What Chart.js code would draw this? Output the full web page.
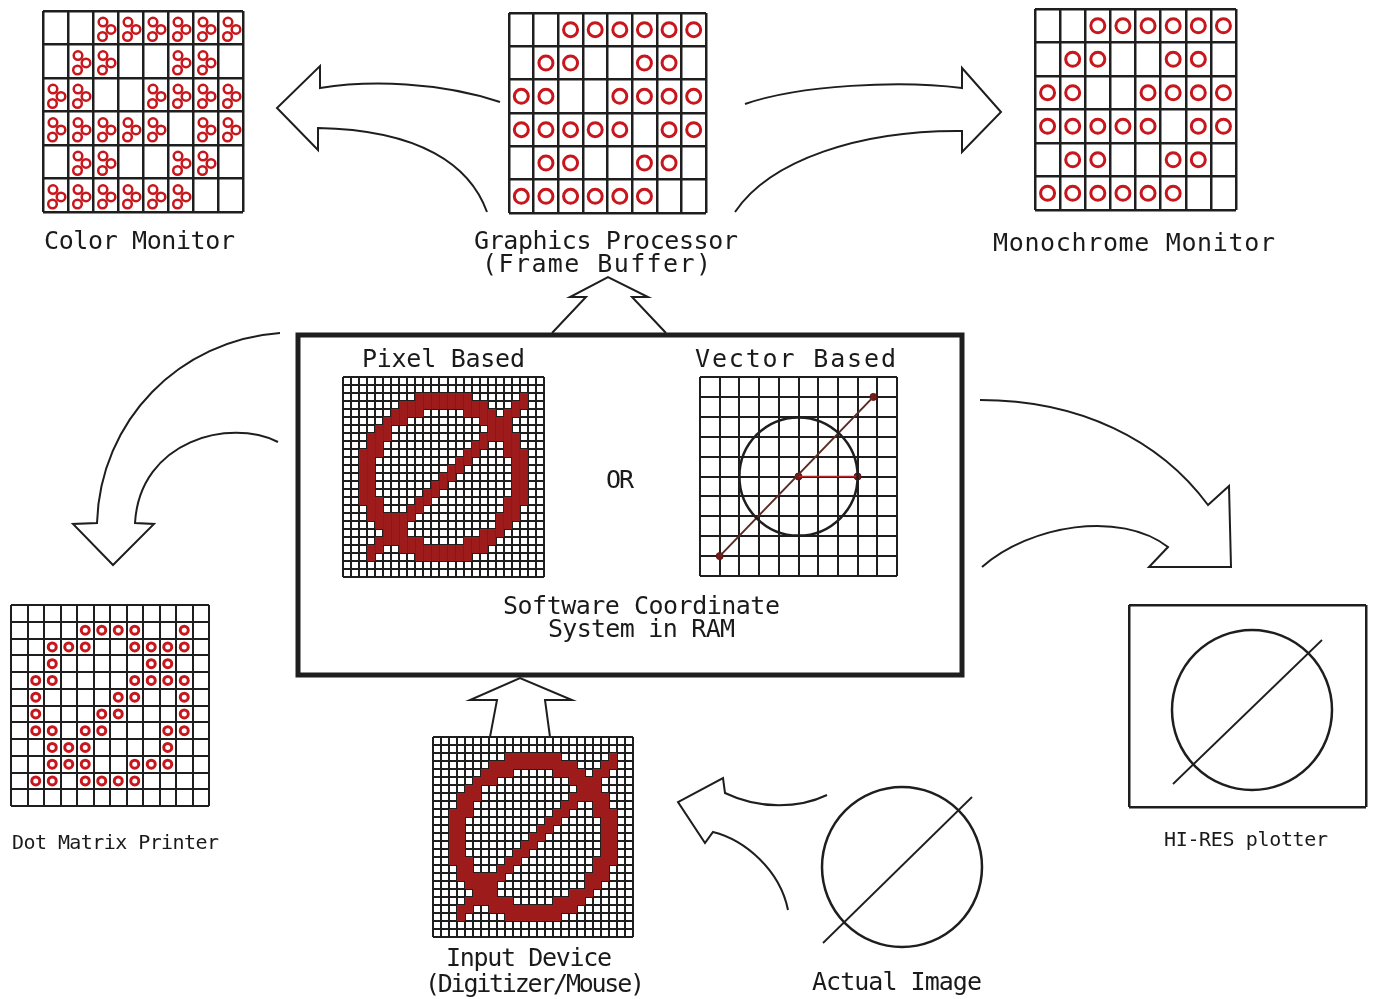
<!DOCTYPE html>
<html>
<head>
<meta charset="utf-8">
<title>Graphics data flow</title>
<script src="https://cdn.jsdelivr.net/npm/chart.js@4.4.1/dist/chart.umd.min.js"></script>
<style>
  html, body { margin: 0; padding: 0; background: #fff; }
  #stage { position: relative; width: 1374px; height: 999px; overflow: hidden; }
  .panel { position: absolute; }
  .label { position: absolute; white-space: nowrap; font-family: "DejaVu Sans Mono", monospace; color: #1a1a1a; line-height: 1; }
</style>
</head>
<body>
<div id="stage"></div>
<script>
// Data: frame buffer cells (1 = pixel on), 8 columns x 6 rows
const frameBufferRows = ['00111111', '01100110', '11001111', '11111011', '01100110', '11111100'];
const colorMonitorRows = ['00111111', '01100110', '11001111', '11111011', '01100110', '11111100'];
const monochromeRows = ['00111111', '01100110', '11001111', '11111011', '01100110', '11111100'];

// Dot matrix printer, 12 x 12
const printerRows = [
    '000000000000',
    '000011110010',
    '001110011110',
    '001000001100',
    '011000011110',
    '010000110010',
    '010001100010',
    '011011000110',
    '001110000100',
    '001110011100',
    '011011110000',
    '000000000000'
];

// Pixel based frame (also what the digitizer returns), 25 x 25
const pixelRows = [
    '.........................',
    '.........................',
    '.........#######......#..',
    '.......###########...##..',
    '......####.....####.##...',
    '.....###.........####....',
    '....##............###....',
    '...###...........#####...',
    '...##...........##..##...',
    '..###..........##...###..',
    '..##..........##.....##..',
    '..##.........##......##..',
    '..##........##.......##..',
    '..##.......##........##..',
    '..##......##.........##..',
    '..###....##.........###..',
    '...##...##..........##...',
    '...######..........###...',
    '....####...........##....',
    '.....###.........###.....',
    '....######.....####......',
    '...##..###########.......',
    '...#.....#######.........',
    '.........................',
    '.........................'
];
const digitizedRows = pixelRows;

// Vector based frame, 10 x 10 grid units
const vectorCircle = [5, 5, 3];
const vectorLine = [[1, 9], [8.8, 1]];
const vectorRadius = [[5, 5], [8, 5]];
const vectorDots = [[1, 9], [5, 5], [8, 5], [8.8, 1]];

// Plotter and actual image, drawing units
const plotterCircle = [12.3, 10.5, 8];
const plotterLine = [[4.4, 17.9], [19.3, 3.5]];
const imageCircle = [9, 9, 8];
const imageLine = [[1.1, 16.6], [16, 2]];

const labelTexts = [
    'Color Monitor', 'Graphics Processor', '(Frame Buffer)', 'Monochrome Monitor',
    'Pixel Based', 'Vector Based', 'OR', 'Software Coordinate', 'System in RAM',
    'Dot Matrix Printer', 'HI-RES plotter', 'Input Device', '(Digitizer/Mouse)', 'Actual Image'
];

// Layout
const INK = '#1e1e1e';
const RED = '#c8161d';
const PIXEL_RED = '#9e1b1b';
const PAD = 3;

const panels = {
    color:   { left: 43,   top: 11,  width: 200, height: 201 },
    frame:   { left: 509,  top: 13,  width: 197, height: 200 },
    mono:    { left: 1035, top: 9,   width: 201, height: 201 },
    pixel:   { left: 343,  top: 377, width: 201, height: 200 },
    vector:  { left: 700,  top: 377, width: 197, height: 199 },
    printer: { left: 11,   top: 605, width: 198, height: 201 },
    input:   { left: 433,  top: 737, width: 200, height: 200 },
    plotter: { left: 1129, top: 605, width: 237, height: 202 },
    image:   { left: 812,  top: 777, width: 180, height: 180 }
};

// [left, right, baseline, font size]
const labelBoxes = [
    [44, 235, 249, 25], [474, 738, 249, 25], [482, 711, 272, 25], [993, 1275, 251, 25],
    [362, 525, 367, 25], [695, 896, 367, 25], [606, 634, 488, 25], [503, 780, 614, 25], [548, 735, 637, 25],
    [12, 219, 849, 20], [1164, 1328, 846, 20], [446, 612, 966, 25], [425, 645, 992, 25], [812, 982, 990, 25]
];

const arrowPaths = [
    [['M', 500, 102], ['C', 440, 82, 370, 80, 320, 88], ['L', 320, 66], ['L', 277, 108], ['L', 318, 150], ['L', 318, 128], ['C', 420, 130, 470, 165, 487, 212]],
    [['M', 745, 104], ['C', 800, 85, 900, 80, 962, 88], ['L', 962, 68], ['L', 1001, 112], ['L', 962, 152], ['L', 962, 131], ['C', 860, 130, 770, 160, 735, 212]],
    [['M', 552, 333], ['L', 586, 297], ['L', 570, 297], ['L', 608, 277], ['L', 648, 297], ['L', 632, 297], ['L', 666, 333]],
    [['M', 490, 737], ['L', 497, 700], ['L', 470, 700], ['L', 520, 678], ['L', 572, 700], ['L', 545, 700], ['L', 550, 737]],
    [['M', 280, 333], ['C', 180, 340, 100, 420, 97, 523], ['L', 73, 524], ['L', 113, 565], ['L', 154, 524], ['L', 135, 523], ['C', 140, 440, 230, 418, 278, 442]],
    [['M', 980, 400], ['C', 1080, 400, 1160, 440, 1208, 505], ['L', 1229, 486], ['L', 1231, 567], ['L', 1149, 567], ['L', 1168, 547], ['C', 1120, 510, 1030, 525, 982, 567]],
    [['M', 827, 795], ['C', 800, 808, 760, 810, 725, 793], ['L', 723, 778], ['L', 678, 802], ['L', 705, 843], ['L', 713, 832], ['C', 745, 840, 780, 870, 788, 910]]
];
const mainBox = [298, 335, 962, 675];

const stage = document.getElementById('stage');

document.addEventListener('DOMContentLoaded', () => {
    drawBackdrop();
    drawCellPanel(panels.frame, frameBufferRows, 8, 6, [[0.5, 0.5]], 7, 3, 2.5);
    drawCellPanel(panels.mono, monochromeRows, 8, 6, [[0.5, 0.5]], 7, 3, 2.5);
    drawCellPanel(panels.color, colorMonitorRows, 8, 6, [[0.4, 0.33], [0.72, 0.55], [0.38, 0.76]], 4.3, 2.5, 2.5);
    drawCellPanel(panels.printer, printerRows, 12, 12, [[0.5, 0.5]], 4, 3, 2);
    drawPixelPanel(panels.pixel, pixelRows);
    drawPixelPanel(panels.input, digitizedRows);
    drawVectorPanel();
    drawFigurePanel(panels.plotter, 23.7, 20.2, plotterCircle, plotterLine, true);
    drawFigurePanel(panels.image, 18, 18, imageCircle, imageLine, false);
    placeLabels();
});

function makeChart(box, scales, datasets, plugins = []) {
    const canvas = document.createElement('canvas');
    canvas.className = 'panel';
    canvas.width = box.width + PAD * 2;
    canvas.height = box.height + PAD * 2;
    canvas.style.left = (box.left - PAD) + 'px';
    canvas.style.top = (box.top - PAD) + 'px';
    stage.appendChild(canvas);

    return new Chart(canvas.getContext('2d'), {
        type: 'scatter',
        data: { datasets },
        options: {
            responsive: false,
            animation: false,
            events: [],
            layout: { autoPadding: false, padding: PAD },
            scales,
            plugins: { legend: { display: false }, tooltip: { enabled: false } }
        },
        plugins
    });
}

function gridAxis(count, lineWidth, z, reverse) {
    return {
        type: 'linear',
        min: 0,
        max: count,
        reverse,
        ticks: { display: false, stepSize: 1, autoSkip: false, maxTicksLimit: 1000 },
        grid: { color: INK, lineWidth, drawTicks: false },
        border: { display: false },
        z
    };
}

function hiddenAxis(max, reverse) {
    return { type: 'linear', min: 0, max, reverse, display: false };
}

function cellPoints(rows, dx, dy) {
    const pts = [];
    rows.forEach((row, r) => {
        [...row].forEach((ch, c) => {
            if (ch === '1' || ch === '#') pts.push({ x: c + dx, y: r + dy });
        });
    });
    return pts;
}

function unitPx(chart, units) {
    const s = chart.scales.x;
    return Math.abs(s.getPixelForValue(units) - s.getPixelForValue(0));
}

function drawCellPanel(box, rows, cols, nRows, offsets, radius, ringWidth, gridWidth) {
    const datasets = offsets.map(([dx, dy]) => ({
        data: cellPoints(rows, dx, dy),
        pointStyle: 'circle',
        pointRadius: radius,
        pointBorderWidth: ringWidth,
        pointBorderColor: RED,
        pointBackgroundColor: 'rgba(255,255,255,0)'
    }));
    makeChart(box, {
        x: gridAxis(cols, gridWidth, 0, false),
        y: gridAxis(nRows, gridWidth, 0, true)
    }, datasets);
}

function drawPixelPanel(box, rows) {
    makeChart(box, {
        x: gridAxis(25, 2, 1, false),
        y: gridAxis(25, 2, 1, true)
    }, [{
        data: cellPoints(rows, 0.5, 0.5),
        pointStyle: 'rect',
        pointRadius: ctx => unitPx(ctx.chart, 1) * Math.SQRT1_2,
        pointBorderWidth: 0,
        pointBackgroundColor: PIXEL_RED
    }]);
}

function toPoints(pairs) {
    return pairs.map(([x, y]) => ({ x, y }));
}

function drawVectorPanel() {
    const [cx, cy, r] = vectorCircle;
    makeChart(panels.vector, {
        x: gridAxis(10, 2, 0, false),
        y: gridAxis(10, 2, 0, true)
    }, [
        {
            data: [{ x: cx, y: cy }],
            pointStyle: 'circle',
            pointRadius: ctx => unitPx(ctx.chart, r),
            pointBorderWidth: 2.5,
            pointBorderColor: INK,
            pointBackgroundColor: 'rgba(255,255,255,0)'
        },
        {
            data: toPoints(vectorLine),
            showLine: true,
            borderColor: '#5b2b22',
            borderWidth: 2,
            pointRadius: 0
        },
        {
            data: toPoints(vectorRadius),
            showLine: true,
            borderColor: '#b3262a',
            borderWidth: 1.5,
            pointRadius: 0
        },
        {
            data: toPoints(vectorDots),
            pointStyle: 'circle',
            pointRadius: 3.5,
            pointBorderWidth: 1,
            pointBorderColor: '#5a1212',
            pointBackgroundColor: '#7a1717'
        }
    ]);
}

// Circle with a diagonal stroke; the plotter gets a frame from the edge ticks
function drawFigurePanel(box, w, h, circle, line, framed) {
    const [cx, cy, r] = circle;
    const edgeTicks = s => { s.ticks = [{ value: s.min }, { value: s.max }]; };
    const axis = (max, reverse) => framed ? {
        type: 'linear', min: 0, max, reverse,
        afterBuildTicks: edgeTicks,
        ticks: { display: false },
        grid: { color: INK, lineWidth: 2.5, drawTicks: false },
        border: { display: false }
    } : hiddenAxis(max, reverse);

    makeChart(box, { x: axis(w, false), y: axis(h, true) }, [
        {
            data: [{ x: cx, y: cy }],
            pointStyle: 'circle',
            pointRadius: ctx => unitPx(ctx.chart, r),
            pointBorderWidth: 2.5,
            pointBorderColor: INK,
            pointBackgroundColor: 'rgba(255,255,255,0)'
        },
        {
            data: toPoints(line),
            showLine: true,
            borderColor: INK,
            borderWidth: 1.8,
            pointRadius: 0
        }
    ]);
}

// Backdrop: hollow arrows and the RAM box, mapped through a page sized chart
const arrowPlugin = {
    id: 'arrows',
    afterDraw(chart) {
        const { ctx, scales } = chart;
        const X = v => scales.x.getPixelForValue(v);
        const Y = v => scales.y.getPixelForValue(v);
        ctx.save();
        ctx.strokeStyle = INK;
        ctx.lineJoin = 'miter';
        ctx.lineWidth = 2;
        arrowPaths.forEach(path => {
            ctx.beginPath();
            path.forEach(seg => {
                const [op, ...v] = seg;
                if (op === 'M') ctx.moveTo(X(v[0]), Y(v[1]));
                else if (op === 'L') ctx.lineTo(X(v[0]), Y(v[1]));
                else ctx.bezierCurveTo(X(v[0]), Y(v[1]), X(v[2]), Y(v[3]), X(v[4]), Y(v[5]));
            });
            ctx.stroke();
        });
        const [x0, y0, x1, y1] = mainBox;
        ctx.lineWidth = 5;
        ctx.strokeRect(X(x0), Y(y0), X(x1) - X(x0), Y(y1) - Y(y0));
        ctx.restore();
    }
};

function drawBackdrop() {
    const canvas = document.createElement('canvas');
    canvas.className = 'panel';
    canvas.width = 1374;
    canvas.height = 999;
    canvas.style.left = '0px';
    canvas.style.top = '0px';
    stage.appendChild(canvas);
    new Chart(canvas.getContext('2d'), {
        type: 'scatter',
        data: { datasets: [] },
        options: {
            responsive: false,
            animation: false,
            events: [],
            layout: { autoPadding: false, padding: 0 },
            scales: { x: hiddenAxis(1374, false), y: hiddenAxis(999, true) },
            plugins: { legend: { display: false }, tooltip: { enabled: false } }
        },
        plugins: [arrowPlugin]
    });
}

function placeLabels() {
    const measure = document.createElement('canvas').getContext('2d');
    labelTexts.forEach((text, i) => {
        const [left, right, baseline, size] = labelBoxes[i];
        measure.font = `${size}px "DejaVu Sans Mono"`;
        const natural = measure.measureText(text).width;
        const spacing = (right - left - natural) / Math.max(text.length - 1, 1);
        const el = document.createElement('div');
        el.className = 'label';
        el.textContent = text;
        el.style.fontSize = size + 'px';
        el.style.letterSpacing = spacing.toFixed(2) + 'px';
        el.style.left = left + 'px';
        el.style.top = (baseline - 0.846 * size) + 'px';
        stage.appendChild(el);
    });
}
</script>
</body>
</html>
